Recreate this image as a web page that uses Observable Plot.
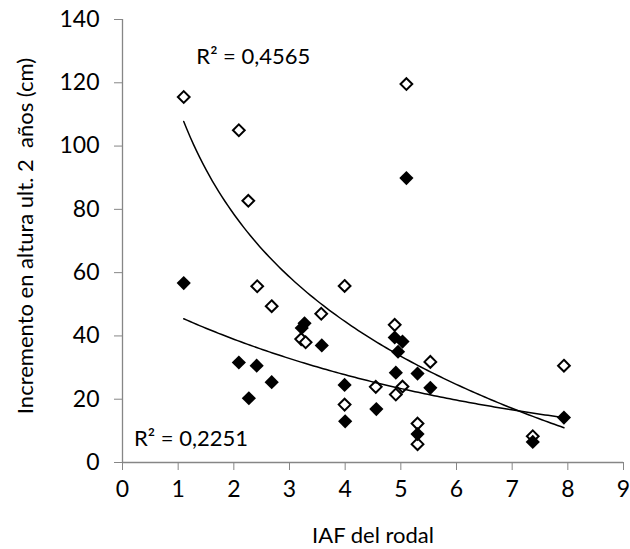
<!DOCTYPE html>
<html><head><meta charset="utf-8">
<script src="https://cdn.jsdelivr.net/npm/d3@7"></script>
<script src="https://cdn.jsdelivr.net/npm/@observablehq/plot@0.6"></script>
<style>
body{margin:0;background:#fff;}
#chart svg text{white-space:pre;}
</style>
</head><body><div id="chart"></div>
<script>
// Open diamonds (white series)
const openX = [1.10, 2.09, 2.26, 2.42, 2.68, 3.21, 3.29, 3.57, 3.99, 3.99, 4.55, 4.89, 4.91, 5.03, 5.10, 5.30, 5.30, 5.53, 7.37, 7.93];
const openY = [115.5, 105.0, 82.7, 55.7, 49.4, 39.0, 38.0, 47.0, 55.8, 18.3, 23.9, 43.5, 21.5, 24.0, 119.6, 12.3, 5.8, 31.8, 8.3, 30.6];
// Filled diamonds (black series)
const filledX = [1.10, 2.09, 2.27, 2.41, 2.68, 3.22, 3.27, 3.58, 3.99, 4.00, 4.56, 4.89, 5.03, 4.95, 4.91, 5.10, 5.30, 5.30, 5.53, 7.37, 7.93];
const filledY = [56.7, 31.6, 20.3, 30.6, 25.4, 42.5, 44.0, 37.0, 24.5, 13.0, 16.9, 39.5, 38.2, 35.0, 28.4, 89.9, 28.1, 9.0, 23.6, 6.5, 14.2];

const xTicks = [0, 1, 2, 3, 4, 5, 6, 7, 8, 9];
const yTicks = [0, 20, 40, 60, 80, 100, 120, 140];
const r2OpenLabel = "R² = 0,4565";
const r2FilledLabel = "R² = 0,2251";
const xTitle = "IAF del rodal";
const yTitle = "Incremento en altura ult. 2  años (cm)";

const openPts = openX.map((x, i) => ({x, y: openY[i]}));
const filledPts = filledX.map((x, i) => ({x, y: filledY[i]}));

function linReg(u, v) {
  const mu = d3.mean(u), mv = d3.mean(v);
  const b = d3.sum(u, (p, i) => (p - mu) * (v[i] - mv)) / d3.sum(u, p => (p - mu) ** 2);
  return {a: mv - b * mu, b};
}
function sample(xs, f) {
  const x0 = d3.min(xs), x1 = d3.max(xs);
  return d3.range(0, 121).map(i => { const x = x0 + (x1 - x0) * i / 120; return {x, y: f(x)}; });
}
// logarithmic trendline for the open series, exponential trendline for the filled series
const lo = linReg(openX.map(Math.log), openY);
const openFit = sample(openX, x => lo.a + lo.b * Math.log(x));
const ex = linReg(filledX, filledY.map(Math.log));
const filledFit = sample(filledX, x => Math.exp(ex.a + ex.b * x));

const axisGrey = "#868686";
const chart = Plot.plot({
  width: 630, height: 549,
  marginLeft: 122, marginRight: 7, marginTop: 19, marginBottom: 87,
  style: {fontFamily: "Lato, sans-serif", fontSize: "23px", color: "#000", background: "#fff", overflow: "visible"},
  x: {domain: [0, 9], label: null},
  y: {domain: [0, 140], label: null},
  marks: [
    Plot.ruleX([0], {stroke: axisGrey, strokeWidth: 1.3}),
    Plot.ruleY([0], {stroke: axisGrey, strokeWidth: 1.3}),
    Plot.axisX({ticks: xTicks, tickSize: 8, tickPadding: 10, stroke: axisGrey, fill: "#000", label: null, tickFormat: d => String(d)}),
    Plot.axisY({ticks: yTicks, tickSize: 8, tickPadding: 15, stroke: axisGrey, fill: "#000", label: null, tickFormat: d => String(d)}),
    Plot.dot(openPts, {x: "x", y: "y", symbol: "diamond2", r: 5.3, fill: "#fff", stroke: "#000", strokeWidth: 2}),
    Plot.dot(filledPts, {x: "x", y: "y", symbol: "diamond2", r: 6.4, fill: "#000", stroke: "none"}),
    Plot.line(openFit, {x: "x", y: "y", stroke: "#000", strokeWidth: 1.5}),
    Plot.line(filledFit, {x: "x", y: "y", stroke: "#000", strokeWidth: 1.5}),
    Plot.text([r2OpenLabel], {x: 2.35, y: 128.2, text: d => d, fill: "#000", fontSize: 22}),
    Plot.text([r2FilledLabel], {x: 1.23, y: 7.3, text: d => d, fill: "#000", fontSize: 22}),
    Plot.text([xTitle], {frameAnchor: "bottom", lineAnchor: "middle", dy: 73, text: d => d, fill: "#000", fontSize: 22}),
    Plot.text([yTitle], {frameAnchor: "left", dx: -97, dy: -5, rotate: -90, textAnchor: "middle", text: d => d, fill: "#000", fontSize: 22})
  ]
});
document.getElementById("chart").appendChild(chart);
</script>
</body></html>
